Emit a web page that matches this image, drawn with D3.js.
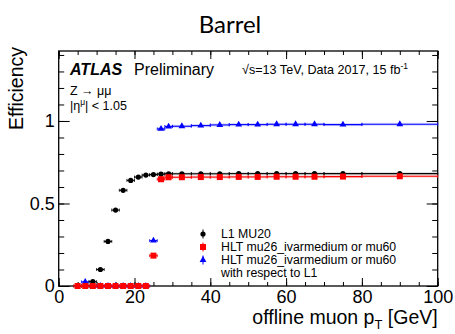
<!DOCTYPE html>
<html>
<head>
<meta charset="utf-8">
<script src="https://cdn.jsdelivr.net/npm/d3@7/dist/d3.min.js"></script>
<style>
    body { margin: 0; background: #fff; }
    svg text { font-family: "Liberation Sans", Arial, Helvetica, sans-serif; fill: #000; }
</style>
</head>
<body>
<svg id="chart" width="455" height="334"></svg>
<script>
// pT bins (GeV)
const binLow  = [4, 6, 8, 10, 12, 14, 16, 18, 20, 22, 24, 26, 28, 30, 35, 40, 45, 50, 55, 60, 65, 70, 80];
const binHigh = [6, 8, 10, 12, 14, 16, 18, 20, 22, 24, 26, 28, 30, 35, 40, 45, 50, 55, 60, 65, 70, 80, 100];

// efficiencies
const l1Eff = [0, 0, 0.026, 0.10, 0.27, 0.46, 0.58, 0.64, 0.66, 0.672, 0.675, 0.678, 0.68,
    0.68, 0.68, 0.68, 0.681, 0.681, 0.681, 0.681, 0.681, 0.681, 0.681];
const hltEff = [0, 0, 0, 0, 0, 0, 0, 0, 0, 0, 0.184, 0.647, 0.659,
    0.659, 0.66, 0.66, 0.661, 0.661, 0.662, 0.662, 0.662, 0.663, 0.665];
const hltOverL1Eff = [null, 0.025, 0, 0, 0, 0, 0, 0, 0, 0, 0.275, 0.952, 0.966,
    0.968, 0.972, 0.976, 0.978, 0.978, 0.98, 0.98, 0.98, 0.978, 0.98];

const xTicks = [0, 20, 40, 60, 80, 100];
const xMinorTicks = d3.range(0, 101, 5);
const yTicks = [0, 0.5, 1];
const yTickLabels = ["0", "0.5", "1"];
const yMinorTicks = d3.range(0, 1.41, 0.1);
const legendLabels = ["L1 MU20", "HLT mu26_ivarmedium or mu60", "HLT mu26_ivarmedium or mu60"];

const svg = d3.select("#chart");
const pl = 58.7, pr = 437.7, pt = 51, pb = 286;

const x = d3.scaleLinear().domain([0, 100]).range([pl, pr]);
const y = d3.scaleLinear().domain([0, 1.424]).range([pb, pt]);

svg.append("rect").attr("width", 455).attr("height", 334).attr("fill", "#fff");

// title
svg.append("text")
    .attr("x", 230).attr("y", 33)
    .attr("text-anchor", "middle")
    .style("font-family", "Lato, 'Open Sans', sans-serif")
    .style("font-size", "24px")
    .text("Barrel");

// axes: ROOT style, ticks inside the frame
function styleAxis(g) {
    g.select(".domain").remove();
    g.selectAll("line").attr("stroke", "#000").attr("stroke-width", 1);
    g.selectAll("text")
        .style("font-family", "'Liberation Sans', Arial, sans-serif")
        .style("font-size", "18px")
        .attr("fill", "#000");
}

svg.append("g").attr("transform", `translate(0,${pb})`)
    .call(d3.axisBottom(x).tickValues(xMinorTicks).tickSize(-4).tickFormat(""))
    .call(styleAxis);
svg.append("g").attr("transform", `translate(0,${pb})`)
    .call(d3.axisBottom(x).tickValues(xTicks).tickSize(-8).tickPadding(4.5).tickFormat(d3.format("d")))
    .call(styleAxis);
svg.append("g").attr("transform", `translate(0,${pt})`)
    .call(d3.axisTop(x).tickValues(xMinorTicks).tickSize(-4).tickFormat(""))
    .call(styleAxis);
svg.append("g").attr("transform", `translate(0,${pt})`)
    .call(d3.axisTop(x).tickValues(xTicks).tickSize(-8).tickFormat(""))
    .call(styleAxis);

svg.append("g").attr("transform", `translate(${pl},0)`)
    .call(d3.axisLeft(y).tickValues(yMinorTicks).tickSize(-5.5).tickFormat(""))
    .call(styleAxis);
svg.append("g").attr("transform", `translate(${pl},0)`)
    .call(d3.axisLeft(y).tickValues(yTicks).tickSize(-11).tickPadding(4).tickFormat((d, i) => yTickLabels[i]))
    .call(styleAxis);
svg.append("g").attr("transform", `translate(${pr},0)`)
    .call(d3.axisRight(y).tickValues(yMinorTicks).tickSize(-5.5).tickFormat(""))
    .call(styleAxis);
svg.append("g").attr("transform", `translate(${pr},0)`)
    .call(d3.axisRight(y).tickValues(yTicks).tickSize(-11).tickFormat(""))
    .call(styleAxis);

svg.append("rect")
    .attr("x", pl).attr("y", pt)
    .attr("width", pr - pl).attr("height", pb - pt)
    .attr("fill", "none").attr("stroke", "#000").attr("stroke-width", 1.3);

// axis titles
svg.append("text")
    .attr("transform", "translate(23,47) rotate(-90)")
    .attr("text-anchor", "end")
    .style("font-size", "19.5px")
    .text("Efficiency");

let xt = svg.append("text")
    .attr("x", pr).attr("y", 324)
    .attr("text-anchor", "end")
    .style("font-size", "19.5px");
xt.append("tspan").text("offline muon p");
xt.append("tspan").attr("dy", 5).style("font-size", "13px").text("T");
xt.append("tspan").attr("dy", -5).text(" [GeV]");

// series
const series = [
    {vals: hltOverL1Eff, color: "#0000ff", band: "#9999ff", marker: "tri"},
    {vals: l1Eff, color: "#000000", band: "#aaaaaa", marker: "circle"},
    {vals: hltEff, color: "#ff0000", band: "#ff9999", marker: "square"}
];

function drawMarker(g, type, color) {
    if (type === "circle") {
        g.append("circle").attr("r", 2.6).attr("fill", color);
    } else if (type === "square") {
        g.append("rect").attr("x", -3).attr("y", -3).attr("width", 6).attr("height", 6).attr("fill", color);
    } else {
        g.append("path").attr("d", d3.symbol(d3.symbolTriangle).size(20)()).attr("fill", color);
    }
}

for (let s of series) {
    let pts = s.vals.map((v, i) => ({v: v, lo: binLow[i], hi: binHigh[i], c: (binLow[i] + binHigh[i]) / 2}))
        .filter(d => d.v !== null);
    let g = svg.append("g").attr("class", "series");

    g.selectAll("rect.band")
        .data(pts.filter(d => d.lo >= 26))
        .join("rect")
        .attr("class", "band")
        .attr("x", d => x(d.lo)).attr("y", d => y(d.v) - 1.5)
        .attr("width", d => x(d.hi) - x(d.lo)).attr("height", 3)
        .attr("fill", s.band).attr("opacity", 0.4);

    g.selectAll("line.err")
        .data(pts)
        .join("line")
        .attr("class", "err")
        .attr("x1", d => x(d.lo)).attr("x2", d => x(d.hi))
        .attr("y1", d => y(d.v)).attr("y2", d => y(d.v))
        .attr("stroke", s.color).attr("stroke-width", 1.1);

    let caps = [];
    pts.forEach(d => { caps.push({x: d.lo, v: d.v}); caps.push({x: d.hi, v: d.v}); });
    g.selectAll("line.cap")
        .data(caps)
        .join("line")
        .attr("class", "cap")
        .attr("x1", d => x(d.x)).attr("x2", d => x(d.x))
        .attr("y1", d => y(d.v) - 1.5).attr("y2", d => y(d.v) + 1.5)
        .attr("stroke", s.color).attr("stroke-width", 0.8);

    g.selectAll("g.mark")
        .data(pts)
        .join("g")
        .attr("class", "mark")
        .attr("transform", d => `translate(${x(d.c)},${y(d.v)})`)
        .each(function () { drawMarker(d3.select(this), s.marker, s.color); });
}

// labels
svg.append("text").attr("x", 70).attr("y", 75)
    .style("font-size", "16px").style("font-weight", "bold").style("font-style", "italic")
    .text("ATLAS");
svg.append("text").attr("x", 134).attr("y", 75)
    .style("font-size", "16px")
    .text("Preliminary");

let en = svg.append("text").attr("x", 242).attr("y", 74).style("font-size", "12.6px");
en.append("tspan").text("\u221As=13 TeV, Data 2017, 15 fb");
en.append("tspan").attr("dy", -5).style("font-size", "8.5px").text("-1");

svg.append("text").attr("x", 70).attr("y", 95).style("font-size", "12.5px").text("Z \u2192 \u03BC\u03BC");
let eta = svg.append("text").attr("x", 70).attr("y", 110).style("font-size", "12.5px");
eta.append("tspan").text("|\u03B7");
eta.append("tspan").attr("dy", -5).style("font-size", "8.5px").text("\u03BC");
eta.append("tspan").attr("dy", 5).text("| < 1.05");

// legend
const legendY = [234, 247, 260];
const legendOrder = [series[1], series[2], series[0]];
legendOrder.forEach((s, i) => {
    let g = svg.append("g").attr("transform", `translate(203,${legendY[i]})`);
    g.append("line").attr("x1", 0).attr("x2", 0).attr("y1", -4.5).attr("y2", 4.5)
        .attr("stroke", s.color).attr("stroke-width", 1);
    drawMarker(g, s.marker, s.color);
    svg.append("text").attr("x", 221).attr("y", legendY[i] + 4.4)
        .style("font-size", "12.3px").text(legendLabels[i]);
});
svg.append("text").attr("x", 221).attr("y", 277.4)
    .style("font-size", "12.3px").text("with respect to L1");
</script>
</body>
</html>
